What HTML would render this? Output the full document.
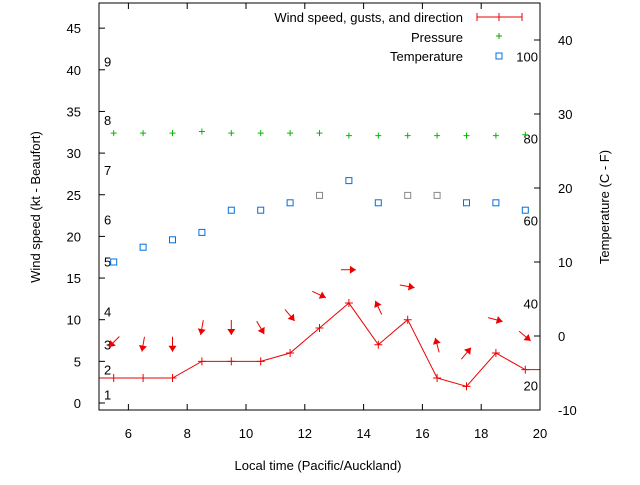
<!DOCTYPE html>
<html><head><meta charset="utf-8"><style>
body{margin:0;background:#fff}
svg text{font-family:"Liberation Sans",sans-serif;font-size:13px;fill:#000}
</style></head><body>
<svg id="chart" width="640" height="480" xmlns="http://www.w3.org/2000/svg">
<defs><clipPath id="pc"><rect x="99" y="3" width="441" height="407"/></clipPath></defs>
<g id="beaufort"></g>
<g id="fahr"></g>
<g id="marks" clip-path="url(#pc)"></g>
<rect x="99" y="3" width="441" height="407" fill="none" stroke="#000" stroke-width="1"/>
<g id="axes"></g>
<text x="318" y="470" text-anchor="middle" font-size="14">Local time (Pacific/Auckland)</text>
<text transform="translate(40,207) rotate(-90)" text-anchor="middle" font-size="14">Wind speed (kt - Beaufort)</text>
<text transform="translate(609,207) rotate(-90)" text-anchor="middle" font-size="14">Temperature (C - F)</text>
<g>
<text x="463" y="22" text-anchor="end" font-size="14">Wind speed, gusts, and direction</text>
<path d="M477 17H522M477 13V21M522 13V21M499 13V21" stroke="#e00" stroke-width="1"/>
<text x="463" y="42" text-anchor="end" font-size="14">Pressure</text>
<path d="M496 36H502M499 33V39" stroke="#0a0" stroke-width="1"/>
<text x="463" y="61" text-anchor="end" font-size="14">Temperature</text>
<rect x="496" y="53" width="6" height="6" fill="none" stroke="#0070e0" stroke-width="1"/>
</g>
</svg>
<script>
const hours=[4.5,5.5,6.5,7.5,8.5,9.5,10.5,11.5,12.5,13.5,14.5,15.5,16.5,17.5,18.5,19.5,20.5];
const windSpeed=[3,3,3,3,5,5,5,6,9,12,7,10,3,2,6,4,4];
const gustSpeed=[7,7.3,7,7,9,9,9,10.5,13,16,11.5,14,7,6,10,8,8];
const windHeading=[135,135,100,90,100,90,60,50,25,0,-115,10,-105,-50,15,40,40];
const pressure=[32.4,32.4,32.4,32.4,32.6,32.4,32.4,32.4,32.4,32.1,32.1,32.1,32.1,32.1,32.1,32.2,32.2];
const temperature=[10,10,12,13,14,17,17,18,19,21,18,19,19,18,18,17,17];
const tempGrey=[0,0,0,0,0,0,0,0,1,0,0,1,1,0,0,0,0];
const xTicks=[6,8,10,12,14,16,18,20];
const yTicks=[0,5,10,15,20,25,30,35,40,45];
const y2Ticks=[-10,0,10,20,30,40];
const beaufortLabels=["1","2","3","4","5","6","7","8","9"];
const beaufortKt=[1,4,7,11,17,22,28,34,41];
const fahrLabels=["20","40","60","80","100"];
const fahrC=[-6.7,4.4,15.6,26.7,37.8];
const NS="http://www.w3.org/2000/svg";
const X=v=>99+(v-5)*29.4, Y=v=>403-v*8.33, Y2=v=>336-v*7.4;
function mk(p,t,a){const e=document.createElementNS(NS,t);for(const k in a)e.setAttribute(k,a[k]);p.appendChild(e);return e;}
const ax=document.getElementById('axes'),mg=document.getElementById('marks');
xTicks.forEach(t=>{const x=X(t);
 const l=mk(ax,'path',{d:`M${x} 410v-6M${x} 3v6`,stroke:'#000'});
 
 const tx=mk(ax,'text',{x:x,y:438,'text-anchor':'middle'});tx.textContent=t;
 });
yTicks.forEach(t=>{const y=Y(t);
 const l=mk(ax,'path',{d:`M99 ${y}h6`,stroke:'#000'});
 
 const tx=mk(ax,'text',{x:81,y:y+5,'text-anchor':'end'});tx.textContent=t;
 });
y2Ticks.forEach(t=>{const y=Y2(t);
 const l=mk(ax,'path',{d:`M540 ${y}h-6`,stroke:'#000'});
 
 const tx=mk(ax,'text',{x:558,y:y+5});tx.textContent=t;
 });
const bg=document.getElementById('beaufort');
beaufortLabels.forEach((b,i)=>{const tx=mk(bg,'text',{x:104,y:Y(beaufortKt[i])+5});tx.textContent=b;
 });
const fg=document.getElementById('fahr');
fahrLabels.forEach((f,i)=>{const tx=mk(fg,'text',{x:538,y:Y2(fahrC[i])+5,'text-anchor':'end'});tx.textContent=f;
 });
const ln=mk(mg,'polyline',{points:hours.map((h,i)=>X(h)+','+Y(windSpeed[i])).join(' '),fill:'none',stroke:'#e00','stroke-width':1});

hours.forEach((h,i)=>{const x=X(h),y=Y(windSpeed[i]);
 const p=mk(mg,'path',{d:`M${x-4} ${y}h8M${x} ${y-4}v8`,stroke:'#e00'});
 
 const py=Y(pressure[i]);
 const pp=mk(mg,'path',{d:`M${x-3} ${py}h6M${x} ${py-3}v6`,stroke:'#0b0'});
 
 const ty=Y2(temperature[i]);
 const r=mk(mg,'rect',{x:x-3,y:ty-3,width:6,height:6,fill:'none',stroke:tempGrey[i]?'#888':'#0070e0'});
 
 const a=windHeading[i]*Math.PI/180,gy=Y(gustSpeed[i]),dx=Math.cos(a),dy=Math.sin(a);
 const x1=x-dx*8,y1=gy-dy*8,x2=x+dx*7,y2=gy+dy*7,hx=-dy,hy=dx;
 const ar=mk(mg,'g',{});
 
 mk(ar,'path',{d:`M${x1} ${y1}L${x2} ${y2}`,stroke:'#e00'});
 mk(ar,'path',{d:`M${x2} ${y2}L${x2-dx*6+hx*4} ${y2-dy*6+hy*4}L${x2-dx*6-hx*4} ${y2-dy*6-hy*4}Z`,fill:'#e00'});
});
</script>
</body></html>
